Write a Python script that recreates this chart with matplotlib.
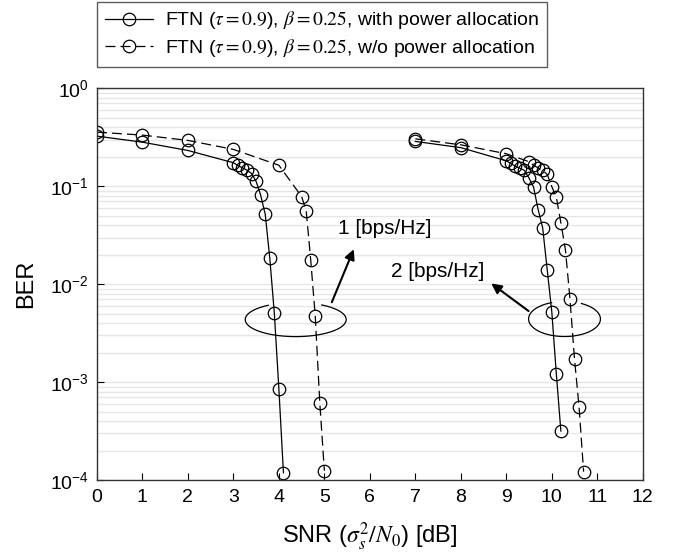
import matplotlib
matplotlib.use("Agg")
import matplotlib.pyplot as plt
import numpy as np

plt.rcParams['font.family'] = ['Liberation Sans', 'DejaVu Sans']
plt.rcParams['mathtext.fontset'] = 'stix'

# 1 [bps/Hz]
snr_1_pa = [0, 1, 2, 3, 3.1, 3.2, 3.3, 3.4, 3.5, 3.6, 3.7, 3.8, 3.9, 4.0, 4.1]
ber_1_pa = [0.325, 0.282, 0.232, 0.174, 0.163, 0.154, 0.146, 0.135, 0.112,
            0.081, 0.0517, 0.0184, 0.00507, 8.5e-4, 1.19e-4]
snr_1_nopa = [0, 1, 2, 3, 4, 4.5, 4.6, 4.7, 4.8, 4.9, 5.0]
ber_1_nopa = [0.357, 0.333, 0.294, 0.238, 0.164, 0.0785, 0.0565, 0.0177,
              0.00469, 6.1e-4, 1.25e-4]

# 2 [bps/Hz]
snr_2_pa = [7, 8, 9, 9.1, 9.2, 9.3, 9.4, 9.5, 9.6, 9.7, 9.8, 9.9, 10.0, 10.1, 10.2]
ber_2_pa = [0.287, 0.248, 0.182, 0.171, 0.160, 0.153, 0.145, 0.121, 0.098,
            0.0578, 0.0376, 0.0140, 0.00527, 0.00122, 3.17e-4]
snr_2_nopa = [7, 8, 9, 9.5, 9.6, 9.7, 9.8, 9.9, 10.0, 10.1, 10.2, 10.3, 10.4,
              10.5, 10.6, 10.7]
ber_2_nopa = [0.305, 0.265, 0.215, 0.178, 0.164, 0.154, 0.145, 0.132, 0.0994,
              0.0773, 0.0423, 0.0225, 0.00711, 0.00172, 5.58e-4, 1.22e-4]

label_pa = r'FTN ($\tau = 0.9$), $\beta = 0.25$, with power allocation'
label_nopa = r'FTN ($\tau = 0.9$), $\beta = 0.25$, w/o power allocation'

x_ticks = list(range(0, 13))
y_ticks = [1e-4, 1e-3, 1e-2, 1e-1, 1e0]
y_tick_labels = [r'$\mathregular{10^{-4}}$', r'$\mathregular{10^{-3}}$',
                 r'$\mathregular{10^{-2}}$', r'$\mathregular{10^{-1}}$',
                 r'$\mathregular{10^{0}}$']

fig = plt.figure(figsize=(6.78, 5.59), dpi=100)
ax = fig.add_axes([0.143, 0.141, 0.805, 0.701])

line_style = dict(color='black', lw=0.9, marker='o', markersize=9,
                  markerfacecolor='none', markeredgecolor='black', markeredgewidth=0.9)
dash = (0, (8, 4))

l1, = ax.plot(snr_1_pa, ber_1_pa, linestyle='-', label=label_pa, **line_style)
l2, = ax.plot(snr_1_nopa, ber_1_nopa, linestyle=dash, label=label_nopa, **line_style)
ax.plot(snr_2_pa, ber_2_pa, linestyle='-', **line_style)
ax.plot(snr_2_nopa, ber_2_nopa, linestyle=dash, **line_style)

ax.set_yscale('log')
ax.set_xlim(0, 12)
ax.set_ylim(1e-4, 1)
ax.set_xticks(x_ticks)
ax.set_yticks(y_ticks)
ax.set_yticklabels(y_tick_labels)
ax.yaxis.set_minor_locator(matplotlib.ticker.LogLocator(base=10, subs=np.arange(2, 10)))
ax.yaxis.set_minor_formatter(matplotlib.ticker.NullFormatter())
ax.tick_params(axis='both', which='major', direction='in', length=5, labelsize=14,
               pad=6, color='black')
ax.tick_params(axis='y', which='minor', length=0)
ax.grid(True, which='both', axis='y', color='#e6e6e6', lw=1.0)
ax.set_axisbelow(True)
for sp in ax.spines.values():
    sp.set_color('#333333')
    sp.set_linewidth(1.0)

ax.set_xlabel(r'SNR ($\sigma_s^2/N_0$) [dB]', fontsize=17, labelpad=11)
ax.set_ylabel('BER', fontsize=17, labelpad=9)


def draw_ellipse(cx, cy, a, b, gap=(60, 120)):
    # ellipse in (linear x, log y) space, top part left open
    th = np.radians(np.linspace(gap[1], 360 + gap[0], 200))
    xs = cx + a * np.cos(th)
    ys = 10 ** (np.log10(cy) + b * np.sin(th))
    ax.plot(xs, ys, color='black', lw=0.9)


draw_ellipse(4.37, 0.00436, 1.11, 0.174, gap=(59, 123))
draw_ellipse(10.28, 0.00442, 0.79, 0.179, gap=(62, 111))

arrow = dict(arrowstyle='-|>', color='black', lw=1.5, mutation_scale=15)
ax.text(6.33, 0.037, '1 [bps/Hz]', fontsize=15, ha='center', va='center')
ax.annotate('', xy=(5.67, 0.0242), xytext=(5.14, 0.00617), arrowprops=arrow)
ax.text(7.5, 0.0134, '2 [bps/Hz]', fontsize=15, ha='center', va='center')
ax.annotate('', xy=(8.62, 0.0106), xytext=(9.54, 0.00512), arrowprops=arrow)

leg = fig.legend(handles=[l1, l2], loc='upper left', bbox_to_anchor=(0.143, 0.997),
                 fontsize=14, frameon=True, fancybox=False, edgecolor='#333333',
                 handlelength=2.5, handletextpad=0.6, borderpad=0.4, labelspacing=0.3,
                 borderaxespad=0)
leg.get_frame().set_linewidth(1.0)

fig.savefig('out.png', dpi=100)
